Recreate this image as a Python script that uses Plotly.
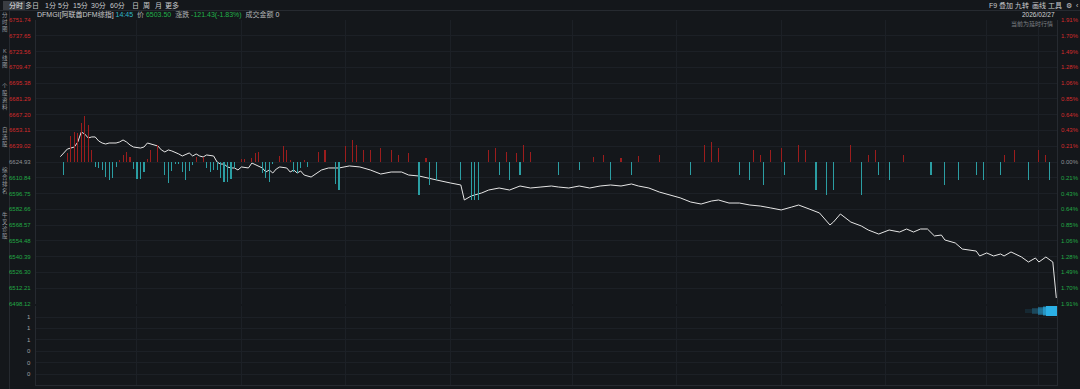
import plotly.graph_objects as go

# ---------------- data ----------------
prev_close = 6624.93
price_ticks = [6751.74, 6737.65, 6723.56, 6709.47, 6695.38, 6681.29, 6667.20, 6653.11, 6639.02,
               6624.93, 6610.84, 6596.75, 6582.66, 6568.57, 6554.48, 6540.39, 6526.30, 6512.21, 6498.12]
pct_labels = ["1.91%", "1.70%", "1.49%", "1.28%", "1.06%", "0.85%", "0.64%", "0.43%", "0.21%",
              "0.00%", "0.21%", "0.43%", "0.64%", "0.85%", "1.06%", "1.28%", "1.49%", "1.70%", "1.91%"]

# minutes since 10:00
line_min = [7, 8, 9, 10, 11, 12, 13, 14, 15, 16, 17, 18, 19, 20, 21, 23, 24, 25, 26, 27, 28, 30, 31, 32, 33,
            35, 36, 37, 38, 39, 41, 42, 44, 45, 46, 47, 48, 49, 51, 52, 53, 54, 55, 56, 57, 58, 59, 61, 62,
            64, 65, 66, 67, 68, 69, 70, 72, 73, 74, 75, 76, 77, 79, 82, 84, 87, 90, 93, 96, 99, 102, 105,
            107, 110, 113, 116, 119, 122, 123, 125, 128, 130, 133, 136, 139, 142, 145, 148, 150, 153, 156,
            159, 162, 165, 168, 171, 173, 176, 179, 182, 185, 188, 191, 194, 196, 199, 202, 205, 208, 211,
            214, 217, 219, 222, 225, 228, 229, 231, 234, 237, 239, 242, 245, 248, 250, 252, 254, 256, 258,
            260, 261, 264, 266, 270, 271, 273, 275, 277, 278, 280, 283, 285, 287, 288, 290, 292, 293]
line_price = [6629.7, 6633.0, 6636.5, 6637.4, 6638.3, 6642.8, 6651.7, 6649.9, 6646.4, 6647.3, 6647.3, 6643.7,
              6641.9, 6641.0, 6641.9, 6641.9, 6642.8, 6644.6, 6642.8, 6640.1, 6638.3, 6637.4, 6638.3, 6641.9,
              6641.0, 6639.2, 6635.7, 6633.9, 6635.7, 6634.8, 6632.1, 6630.3, 6633.0, 6630.3, 6632.1, 6630.3,
              6629.4, 6631.2, 6630.3, 6624.9, 6623.1, 6623.1, 6620.5, 6619.6, 6619.6, 6617.8, 6620.5, 6619.6,
              6624.0, 6621.4, 6619.6, 6616.0, 6617.8, 6615.1, 6618.7, 6620.5, 6619.6, 6616.0, 6617.8, 6615.1,
              6616.9, 6613.3, 6611.5, 6617.8, 6619.6, 6619.6, 6621.4, 6620.5, 6617.8, 6614.2, 6616.0, 6616.0,
              6613.3, 6612.4, 6610.6, 6608.2, 6606.2, 6604.4, 6591.0, 6594.6, 6597.3, 6599.9, 6601.7, 6599.9,
              6603.5, 6601.7, 6602.6, 6603.5, 6602.6, 6601.7, 6603.5, 6601.7, 6603.5, 6604.4, 6603.5, 6605.3,
              6603.5, 6601.7, 6598.1, 6595.5, 6592.9, 6589.2, 6587.4, 6590.1, 6591.0, 6588.3, 6588.3, 6586.5,
              6585.6, 6583.9, 6582.1, 6584.7, 6586.5, 6583.0, 6579.4, 6568.7, 6571.3, 6578.5, 6571.3, 6567.8,
              6564.2, 6560.6, 6564.2, 6562.4, 6565.1, 6562.4, 6565.1, 6565.1, 6558.9, 6559.7, 6555.3, 6552.6,
              6547.2, 6545.4, 6541.0, 6543.7, 6541.0, 6542.8, 6541.0, 6544.6, 6540.1, 6535.6, 6539.2, 6535.6,
              6540.1, 6535.6, 6503.5]

# per-minute change bars (arbitrary units)
bar_min = [8, 9, 10, 11, 12, 13, 14, 15, 16, 17, 18, 19, 20, 21, 22, 23, 24, 25, 26, 27, 28, 29, 30, 31,
           32, 33, 35, 37, 38, 39, 40, 41, 42, 43, 44, 45, 46, 48, 49, 50, 51, 52, 53, 54, 55, 56, 57, 59,
           60, 62, 63, 64, 65, 66, 67, 68, 70, 71, 72, 73, 74, 75, 76, 77, 78,
           81, 83, 86, 87, 89, 91, 92, 94, 96, 99, 102, 104, 107, 110, 112, 113, 115, 122, 125, 126, 127,
           130, 132, 133, 135, 136, 138, 139, 140, 142, 150, 156, 160, 163, 165, 168, 171, 173, 179, 188,
           192, 194, 196, 202, 205, 206, 208, 209, 211, 214, 215, 219, 221, 224, 227, 229, 234, 237, 239,
           241, 242, 245, 249, 257, 261, 265, 270, 272, 277, 278, 281, 285, 288, 290, 291]
bar_val = [-13, 9, 26, 30, 29, 39, 46, 37, 12, -5, -6, -8, -15, -18, -16, -5, 2, 7, 10, 5, -7, -17, -17,
           -10, 3, 12, 17, -13, -21, -9, -2, -2, -10, -18, -9, -3, 5, 5, -6, -10, -8, -8, -16, -20, -20,
           -17, -6, 3, 3, 4, 9, 10, -11, -16, -20, -2, 6, 16, 12, 2, -10, -11, -6, 2, -5,
           10, 12, -22, -28, 16, 22, 17, 12, 12, 14, 12, 7, 9, -33, 4, -23, -18, -18, -38, -38, -38,
           12, 14, -13, 10, -18, 9, -13, 17, 10, -13, -8, 5, 7, -18, 4, -13, 6, 7, -13,
           17, 20, 14, -13, -18, 12, 7, -23, 12, 14, -13, 17, 12, -28, -33, -28, 17, -33, 7,
           12, -13, -18, 7, -13, -23, -18, -13, -18, -13, 7, 12, -18, 12, 7, -18]

vol_tickvals = [1.0, 0.8, 0.6, 0.4, 0.2, 0.0]
vol_ticktext = ["1", "1", "1", "0", "0", "0"]

time_tickvals = [0, 29, 59, 89, 119, 154, 184, 214, 244, 273, 288]
time_labels = ["10:00", "10:30", "11:00", "11:30", "12:00", "12:30", "13:00", "13:30", "14:00", "14:30", "14:45"]

tabs = ["分时", "多日", "1分", "5分", "15分", "30分", "60分", "日", "周", "月", "更多"]
tab_x = [16, 32, 50, 63, 80, 98, 117, 135, 146, 158, 172]
tools = ["F9", "叠加", "九转", "画线", "工具"]
tool_x = [993, 1006, 1022, 1039, 1055]

# ---------------- colours ----------------
BG = "#14171b"
GRID = "#1c2026"
RED = "#d52b2b"
GREEN = "#22a845"
GRAY = "#8f9296"
NUMFONT = "Liberation Sans, Noto Sans CJK SC, sans-serif"
FONT = "Liberation Sans, Noto Sans CJK SC, sans-serif"
NS = 6

W, H = 1080, 389
ML, MR, MT, MB = 36, 23, 20, 4
PW, PH = W - ML - MR, H - MT - MB


def px(xp):
    return (xp - ML) / PW


def py(yp):
    return (H - MB - yp) / PH


fig = go.Figure()

bar_colors = ["#9c1d1d" if v > 0 else "#2b9ea3" for v in bar_val]
fig.add_trace(go.Bar(x=bar_min, y=bar_val, marker_color=bar_colors, marker_line_width=0,
                     width=0.32, xaxis="x", yaxis="y3", hoverinfo="skip"))
fig.add_trace(go.Scatter(x=line_min, y=line_price, mode="lines",
                         line=dict(color="#e6e6e6", width=1), xaxis="x", yaxis="y", hoverinfo="skip"))

main_dom = [py(304), 1.0]
vol_dom = [0.0, py(306)]
xr = [0, 293.2]

fig.update_layout(
    width=W, height=H,
    margin=dict(l=ML, r=MR, t=MT, b=MB),
    paper_bgcolor=BG, plot_bgcolor=BG,
    showlegend=False,
    font=dict(family=FONT, size=7, color=GRAY),
    bargap=0,
    xaxis=dict(domain=[0, 1], range=xr, anchor="y", tickvals=time_tickvals, showticklabels=False,
               showgrid=True, gridcolor=GRID, zeroline=False, showline=False),
    xaxis2=dict(domain=[0, 1], range=xr, anchor="y2", matches="x", tickvals=time_tickvals,
                ticktext=time_labels, showticklabels=True, tickfont=dict(family=NUMFONT, size=NS, color="#6f7276"),
                showgrid=True, gridcolor=GRID, zeroline=False, showline=True, linecolor="#262a30",
                ticks="", automargin=False),
    yaxis=dict(domain=main_dom, range=[6498.12, 6751.74], tickvals=price_ticks, showticklabels=False,
               showgrid=True, gridcolor=GRID, zeroline=False, showline=True, linecolor="#262a30",
               mirror=True, automargin=False),
    yaxis3=dict(domain=main_dom, overlaying="y", range=[-142, 142], showgrid=False, showticklabels=False,
                zeroline=False, anchor="x"),
    yaxis2=dict(domain=vol_dom, range=[-0.193, 1.193], anchor="x2", tickvals=vol_tickvals,
                showticklabels=False, showgrid=True, gridcolor=GRID, zeroline=False, showline=True,
                linecolor="#262a30", mirror=True, automargin=False),
)

ann = []
for p, lab in zip(price_ticks, pct_labels):
    if p > prev_close + 0.01:
        c = RED
    elif p < prev_close - 0.01:
        c = GREEN
    else:
        c = GRAY
    ann.append(dict(x=px(33), y=p, xref="paper", yref="y", text=f"{p:.2f}", showarrow=False,
                    xanchor="right", yanchor="middle", font=dict(family=NUMFONT, color=c, size=NS)))
    ann.append(dict(x=px(1059), y=p, xref="paper", yref="y", text=lab, showarrow=False,
                    xanchor="left", yanchor="middle", font=dict(family=NUMFONT, color=c, size=NS)))
for v, t in zip(vol_tickvals, vol_ticktext):
    ann.append(dict(x=px(33), y=v, xref="paper", yref="y2", text=t, showarrow=False,
                    xanchor="right", yanchor="middle", font=dict(family=NUMFONT, color="#a0a3a6", size=NS)))

for t, x in zip(tabs, tab_x):
    ann.append(dict(x=px(x), y=py(5.5), xref="paper", yref="paper", text=t, showarrow=False,
                    xanchor="center", yanchor="middle",
                    font=dict(color="#c8cacc" if t != "分时" else "#e8e8e8", size=7)))
for t, x in zip(tools, tool_x):
    ann.append(dict(x=px(x), y=py(5.5), xref="paper", yref="paper", text=t, showarrow=False,
                    xanchor="center", yanchor="middle", font=dict(color="#c8cacc", size=7)))
ann.append(dict(x=px(1069), y=py(5.5), xref="paper", yref="paper", text="⚙", showarrow=False,
                xanchor="center", yanchor="middle", font=dict(color="#c8cacc", size=7)))
ann.append(dict(x=px(1077), y=py(5.5), xref="paper", yref="paper", text="‹", showarrow=False,
                xanchor="center", yanchor="middle", font=dict(color="#c8cacc", size=7)))

header = ("<span style='color:#c9cbcd'>DFMGI[阿联酋DFM综指]</span> "
          "<span style='color:#2fb7c9'>14:45</span>  <span style='color:#b0b2b4'>价</span> "
          "<span style='color:#22b04a'>6503.50</span>  <span style='color:#b0b2b4'>涨跌</span> "
          "<span style='color:#22b04a'>-121.43(-1.83%)</span>  <span style='color:#b0b2b4'>成交金额</span> "
          "<span style='color:#c9cbcd'>0</span>")
ann.append(dict(x=px(35), y=py(15), xref="paper", yref="paper", text=header, showarrow=False,
                xanchor="left", yanchor="middle", font=dict(size=7)))
ann.append(dict(x=px(1057), y=py(15), xref="paper", yref="paper", text="2026/02/27", showarrow=False,
                xanchor="right", yanchor="middle", font=dict(family=NUMFONT, color="#d0d2d4", size=NS + 0.5)))
ann.append(dict(x=px(1055), y=py(24), xref="paper", yref="paper", text="当前为延时行情", showarrow=False,
                xanchor="right", yanchor="middle", font=dict(color="#7d8084", size=6)))

strip = ["分<br>时<br>图", "K<br>线<br>图", "个<br>股<br>资<br>料", "自<br>选<br>股", "综<br>合<br>排<br>名", "牛<br>叉<br>诊<br>股"]
strip_y = [22, 58, 97, 137, 180, 225]
for t, y in zip(strip, strip_y):
    ann.append(dict(x=px(4.5), y=py(y), xref="paper", yref="paper", text=t, showarrow=False,
                    xanchor="center", yanchor="middle", font=dict(color="#9a9da0", size=5.5)))

fig.update_layout(annotations=ann)

shapes = []
shapes.append(dict(type="line", xref="paper", yref="paper", x0=px(0), x1=px(W), y0=py(10.5), y1=py(10.5),
                   line=dict(color="#262a30", width=1)))
shapes.append(dict(type="rect", xref="paper", yref="paper", x0=px(3), x1=px(25), y0=py(1), y1=py(10),
                   fillcolor="#3a3d42", line=dict(width=0), layer="below"))
shapes.append(dict(type="line", xref="paper", yref="paper", x0=px(9.5), x1=px(9.5), y0=py(11), y1=py(389),
                   line=dict(color="#262a30", width=1)))
for x0, op, hh in [(1025, 0.12, 2), (1032, 0.25, 3), (1038, 0.45, 4), (1043, 0.7, 4.5)]:
    shapes.append(dict(type="rect", xref="paper", yref="paper", x0=px(x0), x1=px(1057),
                       y0=py(311 + hh), y1=py(311 - hh), fillcolor="#2aa6dc", opacity=op, line=dict(width=0)))
shapes.append(dict(type="rect", xref="paper", yref="paper", x0=px(1046), x1=px(1057), y0=py(316), y1=py(306),
                   fillcolor="#2bb0e6", line=dict(width=0)))
fig.update_layout(shapes=shapes)

fig.write_html("out.html", config={"displayModeBar": False, "staticPlot": True},
               post_script="document.body.style.margin='0';document.body.style.padding='0';"
                           "document.body.style.overflow='hidden';document.body.style.background='#14171b';")
